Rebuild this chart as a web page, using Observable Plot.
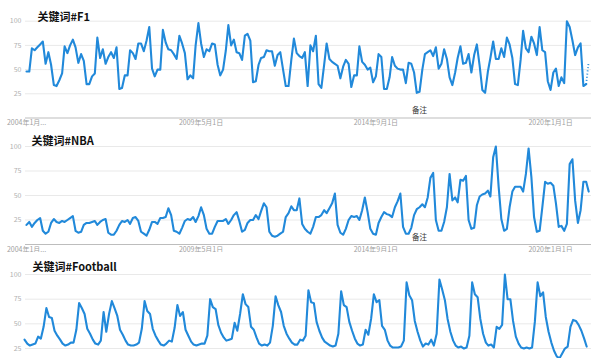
<!DOCTYPE html>
<html><head><meta charset="utf-8">
<script src="https://cdn.jsdelivr.net/npm/d3@7"></script>
<script src="https://cdn.jsdelivr.net/npm/@observablehq/plot@0.6"></script>
<style>
html,body{margin:0;padding:0;background:#fff;}
#wrap{position:relative;width:600px;height:358px;overflow:hidden;background:#fff;}
#wrap svg{position:absolute;left:0;background:#fff;}
</style></head><body><div id="wrap"></div>
<script>
const titles = ["关键词#F1", "关键词#NBA", "关键词#Football"];
const tickDates = ["2004-01-01", "2009-05-01", "2014-09-01", "2020-01-01"];
const tickLabels = ["2004年1月...", "2009年5月1日", "2014年9月1日", "2020年1月1日"];
const gridValues = [25, 50, 75, 100];
const noteDate = "2016-01-01";
const noteLabel = "备注";
const startYear = 2004, startMonth = 0;

const f1 = [48,48,72,70,73,76,79,56,68,55,
34,33,39,46,74,67,75,81,73,57,
66,59,35,35,43,46,83,62,71,56,
63,68,62,73,30,31,44,44,70,67,
61,77,77,69,80,94,51,43,50,50,
91,78,71,70,66,61,85,77,67,40,
44,41,75,98,77,63,71,69,77,76,
55,44,50,70,96,75,81,68,67,60,
85,87,80,37,38,55,62,63,70,69,
69,54,65,68,50,33,33,60,82,67,
64,62,68,33,75,69,85,35,31,55,
77,61,58,56,54,41,53,60,56,32,
44,44,74,58,55,50,52,37,43,66,
63,30,30,42,63,54,51,50,50,36,
57,56,47,26,27,50,66,68,70,64,
73,51,56,71,61,42,34,47,62,74,
56,57,66,47,65,76,54,29,26,48,
62,79,61,61,72,63,83,76,62,35,
34,60,90,72,68,84,77,65,94,70,
68,38,29,47,51,33,42,36,100,94,
80,65,73,77,33,35,58];
const f1PartialFrom = 205;

const nba = [20,23,18,22,25,27,14,11,13,22,
26,23,22,24,23,25,27,29,14,12,
13,20,22,22,23,24,20,23,25,26,
12,10,10,14,20,24,23,25,21,27,
28,24,13,11,9,15,23,23,21,27,
27,28,37,30,14,13,11,17,24,26,
25,28,23,29,38,30,16,11,11,18,
24,24,24,26,21,25,30,33,24,13,
15,22,25,25,30,26,34,42,38,13,
9,8,9,11,13,28,32,39,35,35,
47,21,16,13,11,18,28,28,30,35,
32,37,42,52,20,12,10,16,25,29,
28,29,25,35,48,33,16,11,10,22,
28,33,31,30,28,38,44,52,18,11,
11,17,30,36,38,41,38,48,68,73,
25,14,14,23,38,72,45,48,43,66,
65,70,25,16,17,40,49,51,52,55,
49,89,100,59,26,14,16,38,54,59,
59,59,54,72,98,69,28,13,14,38,
64,62,63,60,42,18,19,14,21,82,
87,45,22,35,64,64,54];

const football = [34,30,28,29,30,37,35,47,66,57,56,43,
38,34,30,28,29,31,31,44,71,66,60,45,
40,34,30,29,33,62,42,60,73,66,58,44,
39,33,29,28,28,29,31,45,73,63,60,45,
38,33,29,28,30,33,32,46,69,58,62,44,
38,32,29,28,29,30,30,38,75,67,65,49,
41,36,33,34,35,51,43,60,80,70,67,47,
44,36,30,28,29,28,31,48,78,69,62,48,
40,35,31,29,29,34,33,38,84,72,71,52,
43,36,32,30,28,27,28,40,83,69,67,52,
43,35,30,28,29,44,39,55,80,72,74,48,
44,33,28,26,26,26,27,33,92,79,74,53,
42,33,27,30,29,34,28,40,95,85,74,55,
42,33,28,26,27,25,26,38,92,80,77,55,
40,31,28,29,26,47,45,49,100,75,75,53,
37,30,26,25,26,25,26,52,92,78,82,57,
42,31,23,17,15,20,25,27,47,54,53,49,
43,35,27];

const series = [f1, nba, football];

// layout only: where each stacked panel sits on the page
const layouts = [
  {top: 0,   height: 130, mt: 20.7, mb: 12.5, x0: 26, tdx: 12, tdy: -8,  bottomText: true},
  {top: 127, height: 130, mt: 19,   mb: 13,   x0: 26, tdx: 6,  tdy: -9,  bottomText: true},
  {top: 252, height: 133, mt: 22,   mb: 12.3, x0: 24, tdx: 7,  tdy: -11, bottomText: false}
];

const monthStep = 2.729;
const toDate = s => new Date(s + "T00:00:00Z");
const labelMap = new Map(tickDates.map((d, i) => [+toDate(d), tickLabels[i]]));
const font = "'Noto Sans CJK SC', 'Noto Sans', sans-serif";
const lineColor = "#2189da";

const wrap = document.getElementById("wrap");

series.forEach((values, k) => {
  const L = layouts[k];
  const rows = values.map((v, i) => ({date: new Date(Date.UTC(startYear, startMonth + i, 1)), value: v}));
  const n = rows.length;
  const x1 = L.x0 + monthStep * (n - 1);
  const solid = (k === 0) ? rows.slice(0, f1PartialFrom + 1) : rows;
  const dotted = (k === 0) ? rows.slice(f1PartialFrom) : [];
  const marks = [
    Plot.ruleY(gridValues, {stroke: "#e9e9e9", strokeWidth: 1}),
    Plot.ruleY([0], {stroke: "#bdbdbd", strokeWidth: 1}),
    Plot.axisY(gridValues, {tickSize: 0, tickPadding: 4, fontSize: 7, fill: "#b0b0b0", label: null})
  ];
  if (L.bottomText) {
    marks.push(
      Plot.axisX(tickDates.map(toDate), {tickSize: 0, tickPadding: 2.5, fontSize: 7, fill: "#a0a0a0", label: null,
        tickFormat: d => labelMap.get(+d)}),
      Plot.text([toDate(noteDate)], {x: d => d, frameAnchor: "bottom", dy: -5, text: () => noteLabel,
        fontSize: 7.5, fill: "#333"})
    );
  } else {
    marks.push(Plot.axisX({ticks: [], label: null}));
  }
  marks.push(
    Plot.lineY(solid, {x: "date", y: "value", stroke: lineColor, strokeWidth: 2.1, strokeLinejoin: "round"}),
    Plot.lineY(dotted, {x: "date", y: "value", stroke: lineColor, strokeWidth: 1.8, strokeDasharray: "1,2.2", strokeLinecap: "butt"}),
    Plot.text([titles[k]], {frameAnchor: "top-left", dx: L.tdx, dy: L.tdy, text: d => d, textAnchor: "start",
      fontSize: 11, fontWeight: "bold", fill: "#111"})
  );
  const chart = Plot.plot({
    width: 600,
    height: L.height,
    marginTop: L.mt,
    marginBottom: L.mb,
    marginLeft: 25,
    marginRight: 9,
    style: {fontFamily: font, background: "#fff", overflow: "visible"},
    x: {type: "utc", domain: [rows[0].date, rows[n - 1].date], range: [L.x0, x1], label: null},
    y: {domain: [0, 100], label: null},
    marks
  });
  chart.style.top = L.top + "px";
  wrap.appendChild(chart);
});
</script>
</body></html>
